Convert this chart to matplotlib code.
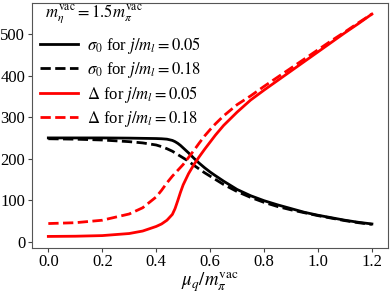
import matplotlib
matplotlib.use("Agg")
import matplotlib.pyplot as plt

plt.rcParams['font.family'] = ['Liberation Serif', 'DejaVu Serif']
plt.rcParams['mathtext.fontset'] = 'stix'

mu = [0, 0.1, 0.2, 0.3, 0.35, 0.4, 0.42, 0.44, 0.46, 0.47, 0.48, 0.49, 0.5,
      0.52, 0.54, 0.56, 0.58, 0.6, 0.62, 0.65, 0.7, 0.75, 0.8, 0.85, 0.9,
      0.95, 1.0, 1.05, 1.1, 1.15, 1.2]

sigma_005 = [250, 250, 250, 249.5, 249, 248.5, 248, 247, 244, 241, 237, 232, 226,
             214, 201, 189, 178, 168, 159, 146, 126, 111, 99, 89, 80,
             71, 64, 58, 52, 47, 43]
sigma_018 = [248, 247, 245, 241, 238, 233, 229, 224, 218, 214, 210, 206, 202,
             194, 184, 175, 166, 158, 150, 138, 121, 107, 95, 85, 77,
             70, 63, 57, 51, 46, 42]
delta_005 = [13, 13.5, 15, 20, 26, 37, 43, 52, 66, 80, 99, 119, 137,
             164, 186, 205, 223, 240, 257, 280, 312, 341, 365, 388, 411,
             434, 457, 480, 503, 525, 548]
delta_018 = [44, 46, 52, 67, 82, 108, 124, 142, 158, 165, 172, 179, 186,
             203, 220, 238, 255, 270, 284, 303, 330, 351, 374, 396, 418,
             440, 462, 484, 505, 527, 548]

labels = [r'$\sigma_0$ for $j/m_l = 0.05$',
          r'$\sigma_0$ for $j/m_l = 0.18$',
          r'$\Delta$ for $j/m_l = 0.05$',
          r'$\Delta$ for $j/m_l = 0.18$']
legend_title = r'$m_\eta^{\rm vac} = 1.5 m_\pi^{\rm vac}$'
xlabel = r'$\mu_q/m_\pi^{\rm vac}$'

fig = plt.figure(figsize=(3.92, 2.94), dpi=100)
ax = fig.add_axes([0.082, 0.158, 0.908, 0.832])

ax.plot(mu, sigma_005, color='black', lw=2, ls='-', label=labels[0])
ax.plot(mu, sigma_018, color='black', lw=2, ls='--', label=labels[1])
ax.plot(mu, delta_005, color='red', lw=2, ls='-', label=labels[2])
ax.plot(mu, delta_018, color='red', lw=2, ls='--', label=labels[3])

ax.set_xticks([0.0, 0.2, 0.4, 0.6, 0.8, 1.0, 1.2])
ax.set_yticks([0, 100, 200, 300, 400, 500])
ax.tick_params(labelsize=12, length=3, pad=2, color='#444444')
for s in ax.spines.values():
    s.set_color('#555555')
ax.set_xlabel(xlabel, fontsize=13.5, labelpad=0)

ax.text(0.0365, 0.951, legend_title, transform=ax.transAxes,
        fontsize=12, ha='left', va='center')
leg = ax.legend(loc='upper left', frameon=False, bbox_to_anchor=(0.0225, 0.87),
                fontsize=12, handlelength=2.3, handletextpad=0.5,
                labelspacing=0.25, borderaxespad=0.0, borderpad=0.0)

fig.savefig('out.png', dpi=100)
